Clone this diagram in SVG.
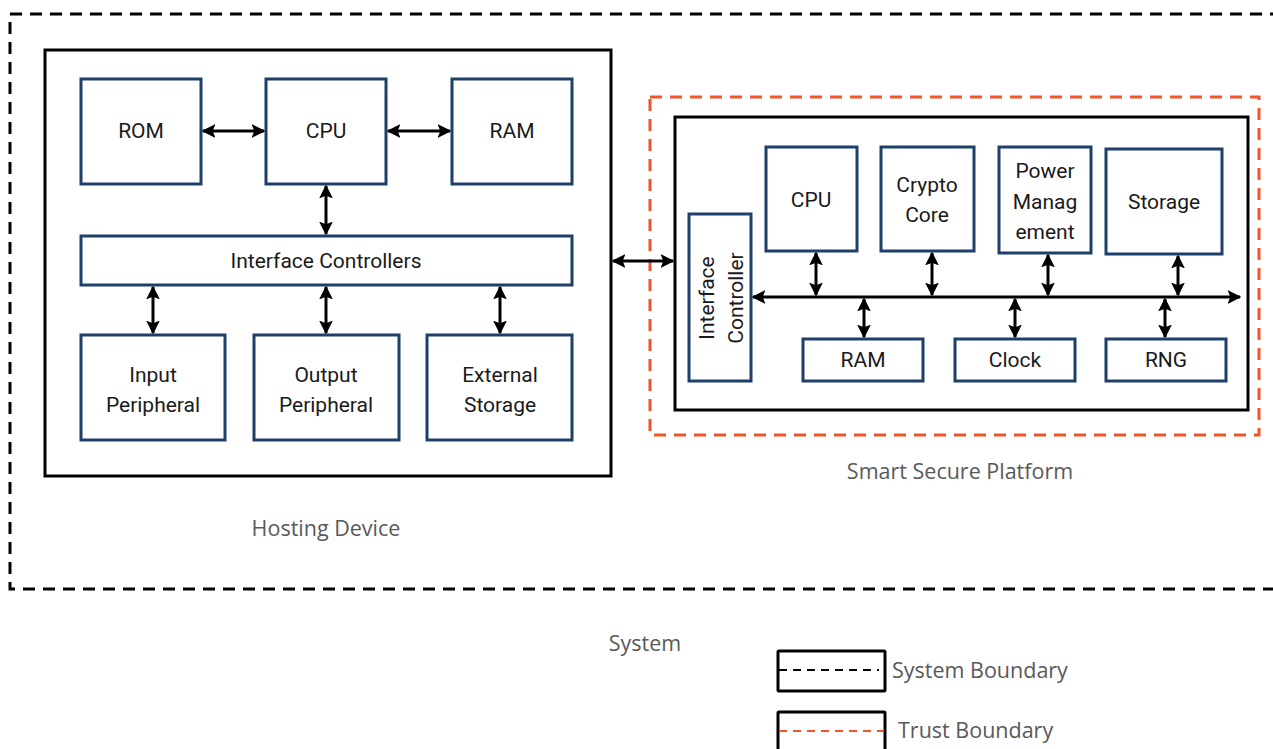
<svg xmlns="http://www.w3.org/2000/svg" width="1273" height="749" viewBox="0 0 1273 749">
<defs>
<marker id="ah" viewBox="0 0 10 10" refX="9" refY="5" markerWidth="4.6" markerHeight="4.6" orient="auto-start-reverse" markerUnits="strokeWidth">
<path d="M0,0 L10,5 L0,10 L2,5 z" fill="#000"/>
</marker>
<style>
.nd{fill:#fff;stroke:#1f3f6b;stroke-width:3;}
.cont{fill:#fff;stroke:#000;stroke-width:3;}
.t{font-family:Roboto,"Liberation Sans",sans-serif;font-size:21px;fill:#1a1a1a;text-anchor:middle;dominant-baseline:central;}
.lbl{font-family:"Open Sans","Liberation Sans",sans-serif;font-size:21.5px;fill:#595959;text-anchor:middle;dominant-baseline:central;}
.lg{font-family:"Open Sans","Liberation Sans",sans-serif;font-size:21.5px;fill:#595959;dominant-baseline:central;}
.c{fill:none;stroke:#000;stroke-width:3;marker-start:url(#ah);marker-end:url(#ah);}
</style>
</defs>
<rect fill="#fff" width="1273" height="749"/>
<rect id="system-boundary" x="10" y="14" width="1275" height="575" fill="none" stroke="#000" stroke-width="3" stroke-dasharray="12,8"/>
<g id="hosting-device">
<rect class="cont" x="45" y="50" width="566" height="426"/>
<text class="lbl" x="326" y="527">Hosting Device</text>
</g>
<g id="h-rom"><rect class="nd" x="81" y="79" width="120" height="105"/><text class="t" x="141" y="131">ROM</text></g>
<g id="h-cpu"><rect class="nd" x="266" y="79" width="120" height="105"/><text class="t" x="326" y="131">CPU</text></g>
<g id="h-ram"><rect class="nd" x="452" y="79" width="120" height="105"/><text class="t" x="512" y="131">RAM</text></g>
<g id="h-ic"><rect class="nd" x="81" y="236" width="491" height="49"/><text class="t" x="326" y="261">Interface Controllers</text></g>
<g id="h-input"><rect class="nd" x="81" y="335" width="144" height="105"/><text class="t" x="153" y="375">Input</text><text class="t" x="153" y="405">Peripheral</text></g>
<g id="h-output"><rect class="nd" x="254" y="335" width="145" height="105"/><text class="t" x="326" y="375">Output</text><text class="t" x="326" y="405">Peripheral</text></g>
<g id="h-ext"><rect class="nd" x="427" y="335" width="145" height="105"/><text class="t" x="500" y="375">External</text><text class="t" x="500" y="405">Storage</text></g>

<g id="trust-boundary">
<rect x="650" y="97" width="609" height="338" fill="none" stroke="#f0552a" stroke-width="3" stroke-dasharray="12,8"/>
</g>
<g id="ssp">
<rect class="cont" x="675" y="117" width="573" height="293"/>
<text class="lbl" x="960" y="470">Smart Secure Platform</text>
</g>
<g id="s-ic"><rect class="nd" x="689" y="214" width="62" height="167"/>
<text class="t" transform="translate(707,298) rotate(-90)">Interface</text>
<text class="t" transform="translate(736,298) rotate(-90)">Controller</text></g>
<g id="s-cpu"><rect class="nd" x="766" y="147" width="91" height="104"/><text class="t" x="811" y="200">CPU</text></g>
<g id="s-crypto"><rect class="nd" x="881" y="147" width="93" height="104"/><text class="t" x="927" y="185">Crypto</text><text class="t" x="927" y="215">Core</text></g>
<g id="s-power"><rect class="nd" x="999" y="147" width="92" height="106"/><text class="t" x="1045" y="171">Power</text><text class="t" x="1045" y="202">Manag</text><text class="t" x="1045" y="232">ement</text></g>
<g id="s-storage"><rect class="nd" x="1106" y="149" width="116" height="105"/><text class="t" x="1164" y="202">Storage</text></g>
<g id="s-ram"><rect class="nd" x="803" y="339" width="120" height="42"/><text class="t" x="863" y="360">RAM</text></g>
<g id="s-clock"><rect class="nd" x="955" y="339" width="120" height="42"/><text class="t" x="1015" y="360">Clock</text></g>
<g id="s-rng"><rect class="nd" x="1106" y="339" width="120" height="42"/><text class="t" x="1166" y="360">RNG</text></g>

<g id="connectors">
<line class="c" x1="203" y1="131" x2="264" y2="131"/>
<line class="c" x1="388" y1="131" x2="450" y2="131"/>
<line class="c" x1="326" y1="186" x2="326" y2="234"/>
<line class="c" x1="153" y1="287" x2="153" y2="333"/>
<line class="c" x1="326" y1="287" x2="326" y2="333"/>
<line class="c" x1="500" y1="287" x2="500" y2="333"/>
<line class="c" x1="613" y1="261" x2="673" y2="261"/>
<line class="c" x1="753" y1="297" x2="1240" y2="297"/>
<line class="c" x1="816" y1="253" x2="816" y2="295"/>
<line class="c" x1="932" y1="253" x2="932" y2="295"/>
<line class="c" x1="1048" y1="255" x2="1048" y2="295"/>
<line class="c" x1="1178" y1="256" x2="1178" y2="295"/>
<line class="c" x1="864" y1="299" x2="864" y2="337"/>
<line class="c" x1="1015" y1="299" x2="1015" y2="337"/>
<line class="c" x1="1165" y1="299" x2="1165" y2="337"/>
</g>

<text class="lbl" x="645" y="642">System</text>
<g id="legend">
<rect x="778" y="651" width="107" height="40" fill="#fff" stroke="#000" stroke-width="3" rx="1"/>
<line x1="779" y1="670" x2="879" y2="670" stroke="#000" stroke-width="2" stroke-dasharray="8,6"/>
<text class="lg" x="892" y="669">System Boundary</text>
<rect x="778" y="712" width="107" height="45" fill="#fff" stroke="#000" stroke-width="3" rx="1"/>
<line x1="779" y1="731" x2="883" y2="731" stroke="#f0552a" stroke-width="2" stroke-dasharray="8,6"/>
<text class="lg" x="898" y="729">Trust Boundary</text>
</g>
</svg>
